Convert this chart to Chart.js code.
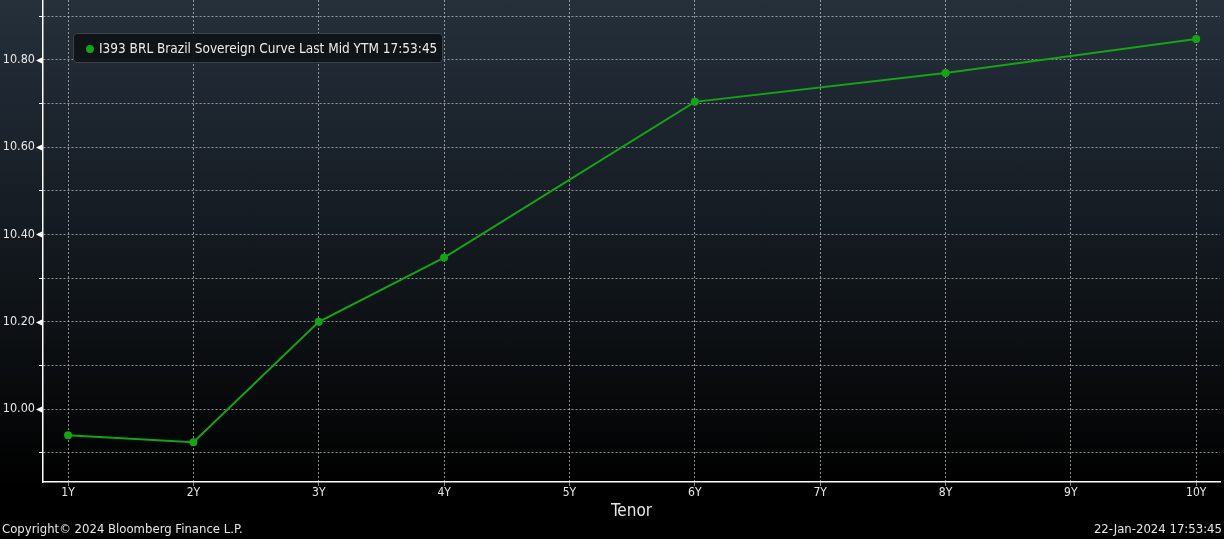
<!DOCTYPE html>
<html>
<head>
<meta charset="utf-8">
<script src="https://cdn.jsdelivr.net/npm/chart.js@4/dist/chart.umd.min.js"></script>
<style>
    html, body { margin: 0; padding: 0; }
    body {
        width: 1224px; height: 539px; overflow: hidden; position: relative;
        background: linear-gradient(to bottom, #25303b 0px, #1a222b 150px, #0e1216 320px, #060708 420px, #000 490px);
        font-family: "DejaVu Sans Condensed", "Liberation Sans", sans-serif;
    }
    #wrap { position: absolute; left: 0; top: -4px; width: 1224px; height: 526px; }
    #legend {
        position: absolute; left: 73px; top: 33px; width: 368px; height: 28px;
        background: rgba(14, 18, 22, 0.92); border: 1px solid #3c4248; border-radius: 4px;
        color: #ececec; font-size: 13.5px; line-height: 28px; white-space: nowrap;
    }
    #legend .dot {
        display: inline-block; width: 8px; height: 8px; border-radius: 50%;
        background: #14a514; margin: 0 5px 0 12px; vertical-align: 0px;
    }
    .foot { position: absolute; top: 521px; font-size: 13px; color: #e6e6e6; white-space: nowrap; }
</style>
</head>
<body>
<div id="wrap"><canvas id="curveChart"></canvas></div>
<div id="legend"><span class="dot"></span>I393 BRL Brazil Sovereign Curve Last Mid YTM 17:53:45</div>
<div class="foot" style="left:2px">Copyright© 2024 Bloomberg Finance L.P.</div>
<div class="foot" style="right:2px">22-Jan-2024 17:53:45</div>
<script>
// tenors in years, yields
const tenors = [1, 2, 3, 4, 6, 8, 10];
const yields = [9.940, 9.924, 10.200, 10.347, 10.704, 10.770, 10.848];

const xTicks = [1, 2, 3, 4, 5, 6, 7, 8, 9, 10];
const xTickLabels = ['1Y', '2Y', '3Y', '4Y', '5Y', '6Y', '7Y', '8Y', '9Y', '10Y'];
const yTicks = [9.9, 10.0, 10.1, 10.2, 10.3, 10.4, 10.5, 10.6, 10.7, 10.8, 10.9];
const yMajor = [10.0, 10.2, 10.4, 10.6, 10.8];

const green = '#14a514';
const fontFamily = '"DejaVu Sans Condensed", "Liberation Sans", sans-serif';

function isMajor(v) {
    return yMajor.some(m => Math.abs(m - v) < 1e-6);
}

// white arrow heads on the labelled y ticks
const arrowTicks = {
    id: 'arrowTicks',
    afterDraw(chart) {
        const ctx = chart.ctx;
        const y = chart.scales.y;
        const left = chart.chartArea.left;
        ctx.save();
        ctx.fillStyle = '#ffffff';
        yMajor.forEach(v => {
            const py = Math.round(y.getPixelForValue(v)) + 0.5;
            ctx.beginPath();
            ctx.moveTo(left - 7, py);
            ctx.lineTo(left, py - 3.5);
            ctx.lineTo(left, py + 3.5);
            ctx.closePath();
            ctx.fill();
        });
        ctx.restore();
    }
};

const ctx = document.getElementById('curveChart').getContext('2d');
new Chart(ctx, {
    type: 'line',
    data: {
        datasets: [{
            label: 'I393 BRL Brazil Sovereign Curve Last Mid YTM 17:53:45',
            data: tenors.map((t, i) => ({ x: t, y: yields[i] })),
            borderColor: green,
            backgroundColor: green,
            borderWidth: 2,
            pointRadius: 4,
            pointBackgroundColor: green,
            pointBorderWidth: 0,
            fill: false,
            tension: 0
        }]
    },
    options: {
        responsive: true,
        maintainAspectRatio: false,
        animation: false,
        layout: { padding: 0 },
        plugins: {
            legend: { display: false },
            tooltip: { enabled: false }
        },
        scales: {
            x: {
                type: 'linear',
                min: 0.8,
                max: 10.19,
                afterBuildTicks: scale => { scale.ticks = xTicks.map(v => ({ value: v })); },
                afterFit: scale => {
                    scale.height = 40;
                    scale.paddingLeft = 0;
                    scale.paddingRight = 0;
                },
                ticks: {
                    color: '#e6e6e6',
                    font: { family: fontFamily, size: 12 },
                    padding: 0,
                    maxRotation: 0,
                    callback: v => xTickLabels[xTicks.indexOf(v)] || ''
                },
                grid: {
                    color: 'rgba(200, 200, 200, 0.7)',
                    tickColor: 'rgba(200, 200, 200, 0.7)',
                    tickLength: 4,
                    lineWidth: 1
                },
                border: { color: '#ffffff', width: 1.5, dash: [2, 2] },
                title: {
                    display: true,
                    text: 'Tenor',
                    color: '#e6e6e6',
                    font: { family: fontFamily, size: 17 },
                    padding: { top: 0, bottom: 0 }
                }
            },
            y: {
                min: 9.8327,
                max: 10.9375,
                afterBuildTicks: scale => { scale.ticks = yTicks.map(v => ({ value: v })); },
                afterFit: scale => {
                    scale.width = 43;
                    scale.paddingTop = 0;
                    scale.paddingBottom = 0;
                },
                ticks: {
                    color: '#e6e6e6',
                    font: { family: fontFamily, size: 12.5 },
                    padding: 4,
                    callback: v => isMajor(v) ? v.toFixed(2) : ''
                },
                grid: {
                    color: 'rgba(200, 200, 200, 0.7)',
                    tickColor: '#ffffff',
                    tickLength: 4,
                    lineWidth: 1
                },
                border: { color: '#ffffff', width: 1.5, dash: [2, 2] }
            }
        }
    },
    plugins: [arrowTicks]
});
</script>
</body>
</html>
